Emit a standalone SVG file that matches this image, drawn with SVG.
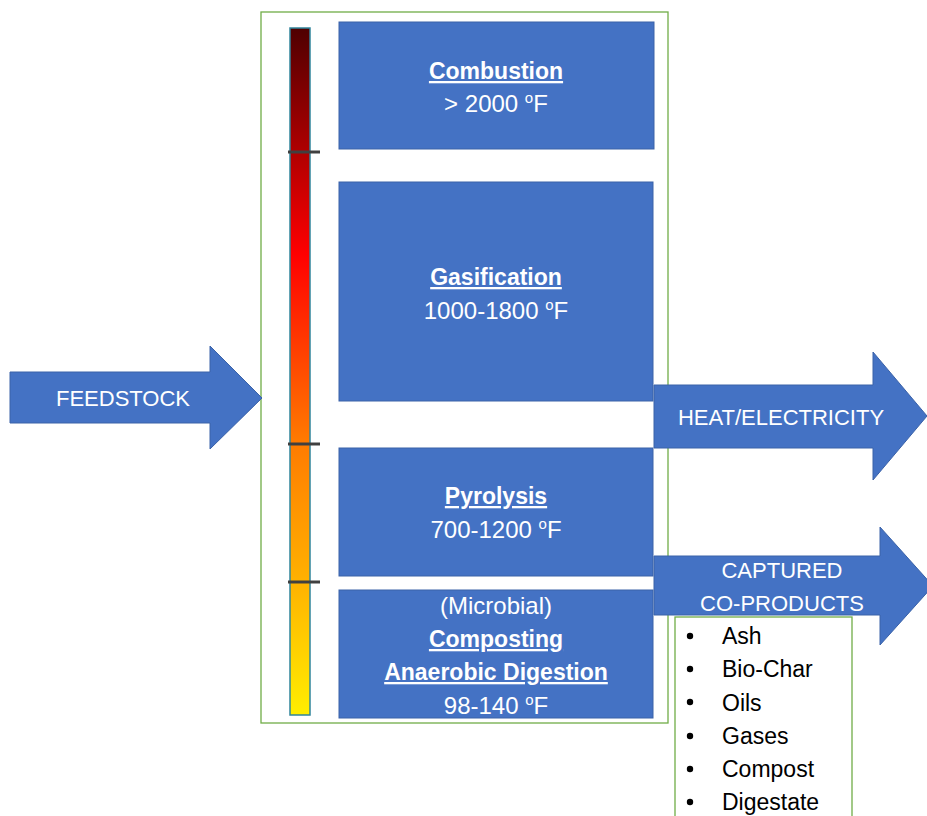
<svg xmlns="http://www.w3.org/2000/svg" width="927" height="816" viewBox="0 0 927 816">
<style>
.box{fill:#4472C4;stroke:#3A62A8;stroke-width:1}
.arrow{fill:#4472C4;stroke:#3A62A8;stroke-width:1}
.frame{fill:none;stroke:#70AD47;stroke-width:1.3}
.t{font-family:"Liberation Sans",Arial,sans-serif;fill:#fff;text-anchor:middle;font-size:24px}
.a{font-size:22px}
.b{font-weight:bold;text-decoration:underline;font-size:23px}
.sup{font-size:15px}
.li{font-family:"Liberation Sans",Arial,sans-serif;fill:#000;font-size:23px}
.tick{stroke:#404040;stroke-width:3}
</style>
<defs>
<linearGradient id="heat" x1="0" y1="0" x2="0" y2="1">
<stop offset="0" stop-color="#4f0000"/>
<stop offset="0.33" stop-color="#ff0000"/>
<stop offset="0.6" stop-color="#ff7a00"/>
<stop offset="0.8" stop-color="#ffb000"/>
<stop offset="1" stop-color="#ffee00"/>
</linearGradient>
</defs>
<g id="frame"><rect class="frame" x="261" y="12" width="407" height="711"/></g>
<g id="thermometer">
<rect x="290" y="28" width="20" height="687" fill="url(#heat)" stroke="#31859C" stroke-width="1.5"/>
<line class="tick" x1="288" y1="152" x2="320" y2="152"/>
<line class="tick" x1="288" y1="444" x2="320" y2="444"/>
<line class="tick" x1="288" y1="582" x2="320" y2="582"/>
</g>
<g id="feedstock">
<polygon class="arrow" points="10,372 210,372 210,346 262,398 210,449 210,423 10,423"/>
<text class="t a" x="123" y="406">FEEDSTOCK</text>
</g>
<g id="combustion">
<rect class="box" x="339" y="22" width="315" height="127"/>
<text class="t" x="496" y="79"><tspan class="b">Combustion</tspan></text>
<text class="t" x="496" y="112">&gt; 2000 <tspan class="sup" dy="-9">o</tspan><tspan dy="9">F</tspan></text>
</g>
<g id="gasification">
<rect class="box" x="339" y="182" width="314" height="219"/>
<text class="t" x="496" y="285"><tspan class="b">Gasification</tspan></text>
<text class="t" x="496" y="319">1000-1800 <tspan class="sup" dy="-9">o</tspan><tspan dy="9">F</tspan></text>
</g>
<g id="pyrolysis">
<rect class="box" x="339" y="448" width="314" height="128"/>
<text class="t" x="496" y="504"><tspan class="b">Pyrolysis</tspan></text>
<text class="t" x="496" y="538">700-1200 <tspan class="sup" dy="-9">o</tspan><tspan dy="9">F</tspan></text>
</g>
<g id="composting">
<rect class="box" x="339" y="590" width="314" height="128"/>
<text class="t" x="496" y="614">(Microbial)</text>
<text class="t" x="496" y="647"><tspan class="b">Composting</tspan></text>
<text class="t" x="496" y="680"><tspan class="b">Anaerobic Digestion</tspan></text>
<text class="t" x="496" y="714">98-140 <tspan class="sup" dy="-9">o</tspan><tspan dy="9">F</tspan></text>
</g>
<g id="heat-electricity">
<polygon class="arrow" points="654,385 873,385 873,352 927,416 873,480 873,448 654,448"/>
<text class="t a" x="781" y="425">HEAT/ELECTRICITY</text>
</g>
<g id="captured">
<polygon class="arrow" points="654,556 880,556 880,527 933,586 880,645 880,615 654,615"/>
<text class="t a" x="782" y="578">CAPTURED</text>
<text class="t a" x="782" y="611">CO-PRODUCTS</text>
</g>
<g id="coproducts-list">
<rect x="675" y="617" width="177" height="210" fill="#fff" stroke="#70AD47" stroke-width="1.3"/>
<g class="li">
<circle cx="690" cy="636" r="3.2"/><text x="722" y="644">Ash</text>
<circle cx="690" cy="669" r="3.2"/><text x="722" y="677">Bio-Char</text>
<circle cx="690" cy="702" r="3.2"/><text x="722" y="711">Oils</text>
<circle cx="690" cy="736" r="3.2"/><text x="722" y="744">Gases</text>
<circle cx="690" cy="769" r="3.2"/><text x="722" y="777">Compost</text>
<circle cx="690" cy="802" r="3.2"/><text x="722" y="810">Digestate</text>
</g>
</g>
</svg>
